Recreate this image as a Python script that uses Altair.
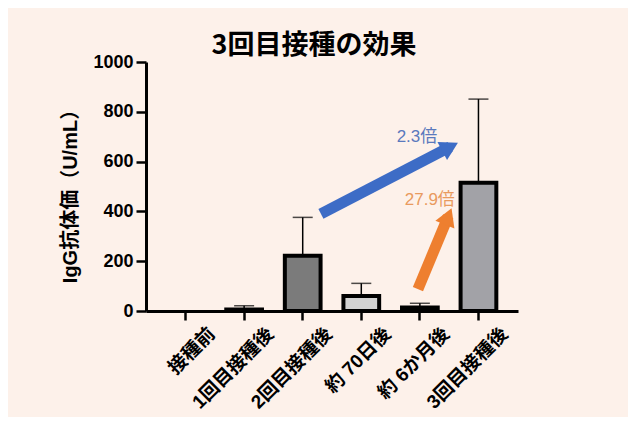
import altair as alt
import pandas as pd

categories = ["接種前", "1回目接種後", "2回目接種後", "約 70日後", "約 6か月後", "3回目接種後"]
means = [0, 6, 222, 60, 14, 515]
uppers = [0, 21, 376, 111, 31, 851]
fills = ["#333333", "#333333", "#7b7b7b", "#d2d2d2", "#333333", "#a2a2a7"]

# arrow annotations (x in category-index units, y in data units)
arrow_names = ["blue", "orange"]
arrow_x0 = [2.311, 3.967]
arrow_y0 = [390, 88]
arrow_x1 = [4.516, 4.484]
arrow_y1 = [659, 380]
arrow_colors = ["#3d6cc6", "#ee7f2f"]
arrow_angles = [62, 22]

label_texts = ["2.3倍", "27.9倍"]
label_x = [3.95, 4.17]
label_y = [699, 446]
label_colors = ["#5a79bd", "#e99a5e"]

bars_df = pd.DataFrame({"cat": categories, "mean": means, "upper": uppers, "fill": fills})
visible_df = bars_df[bars_df["mean"] > 0]
err_df = bars_df[bars_df["upper"] > bars_df["mean"]]
arrows_df = pd.DataFrame({"name": arrow_names, "x0": arrow_x0, "y0": arrow_y0,
                          "x1": arrow_x1, "y1": arrow_y1, "color": arrow_colors,
                          "angle": arrow_angles})
labels_df = pd.DataFrame({"t": label_texts, "x": label_x, "y": label_y, "color": label_colors})

FONT = "Liberation Sans, Noto Sans CJK JP"

band_scale = alt.Scale(domain=categories, paddingInner=0.39, paddingOuter=0.37)
xband = alt.X("cat:N", sort=categories, title=None, scale=band_scale,
              axis=alt.Axis(labelAngle=-45, labelFontSize=19, labelFontWeight="bold",
                            labelFont=FONT, labelColor="black", tickSize=9, tickWidth=2.5,
                            tickColor="black", domainWidth=3, domainColor="black",
                            labelPadding=4, labelOffset=20, labelOverlap=False,
                            labelBound=False))
yscale = alt.Scale(domain=[0, 1000], nice=False)
yaxis = alt.Axis(values=[0, 200, 400, 600, 800, 1000], format="d", grid=False, labelFontSize=18,
                 labelFontWeight="bold", labelFont=FONT, labelColor="black",
                 tickSize=10, tickWidth=2.5, tickColor="black", domainWidth=3,
                 domainColor="black", labelPadding=3,
                 title="IgG抗体価（U/mL）", titleFontSize=20, titleFontWeight="bold",
                 titleFont=FONT, titleColor="black", titleX=-76, titleY=129,
                 titleBaseline="middle", titleAngle=270)

bars = alt.Chart(visible_df).mark_bar(stroke="black", strokeWidth=4).encode(
    x=xband,
    y=alt.Y("mean:Q", scale=yscale, axis=yaxis),
    fill=alt.Fill("fill:N", scale=None),
)

err_rule = alt.Chart(err_df).mark_rule(color="black", strokeWidth=1.5).encode(
    x=alt.X("cat:N", sort=categories, scale=band_scale, title=None),
    y="mean:Q",
    y2="upper:Q",
)
err_cap = alt.Chart(err_df).mark_tick(color="black", thickness=1.5, size=20,
                                      orient="horizontal").encode(
    x=alt.X("cat:N", sort=categories, scale=band_scale, title=None),
    y="upper:Q",
)

bar_group = alt.layer(bars, err_rule, err_cap)

xq = alt.Scale(domain=[-0.675, 5.675], nice=False, zero=False)

arrow_body = alt.Chart(arrows_df).mark_rule(strokeWidth=11).encode(
    x=alt.X("x0:Q", scale=xq, axis=None),
    y=alt.Y("y0:Q", scale=yscale),
    x2="x1:Q",
    y2="y1:Q",
    color=alt.Color("color:N", scale=None),
)
arrow_head = alt.Chart(arrows_df).mark_point(shape="triangle-up", filled=True, size=420,
                                             opacity=1).encode(
    x=alt.X("x1:Q", scale=xq, axis=None),
    y=alt.Y("y1:Q", scale=yscale),
    color=alt.Color("color:N", scale=None),
    angle=alt.Angle("angle:Q", scale=None),
)
arrow_text = alt.Chart(labels_df).mark_text(fontSize=17, font=FONT).encode(
    x=alt.X("x:Q", scale=xq, axis=None),
    y=alt.Y("y:Q", scale=yscale),
    text="t:N",
    color=alt.Color("color:N", scale=None),
)

annot_group = alt.layer(arrow_body, arrow_head, arrow_text)

chart = alt.layer(bar_group, annot_group).resolve_scale(
    x="independent"
).properties(
    width=372,
    height=249,
    background="#fdf1ea",
    autosize=alt.AutoSizeParams(type="none"),
    padding={"left": 138, "top": 54, "right": 110, "bottom": 106},
    title=alt.TitleParams("3回目接種の効果", fontSize=27, fontWeight="bold",
                          font="Noto Sans CJK JP", color="black", anchor="middle",
                          dx=-18, dy=38, frame="group", baseline="bottom", offset=4),
).configure_view(stroke=None)

chart.save("out.html", embed_options={"renderer": "svg", "actions": False})
